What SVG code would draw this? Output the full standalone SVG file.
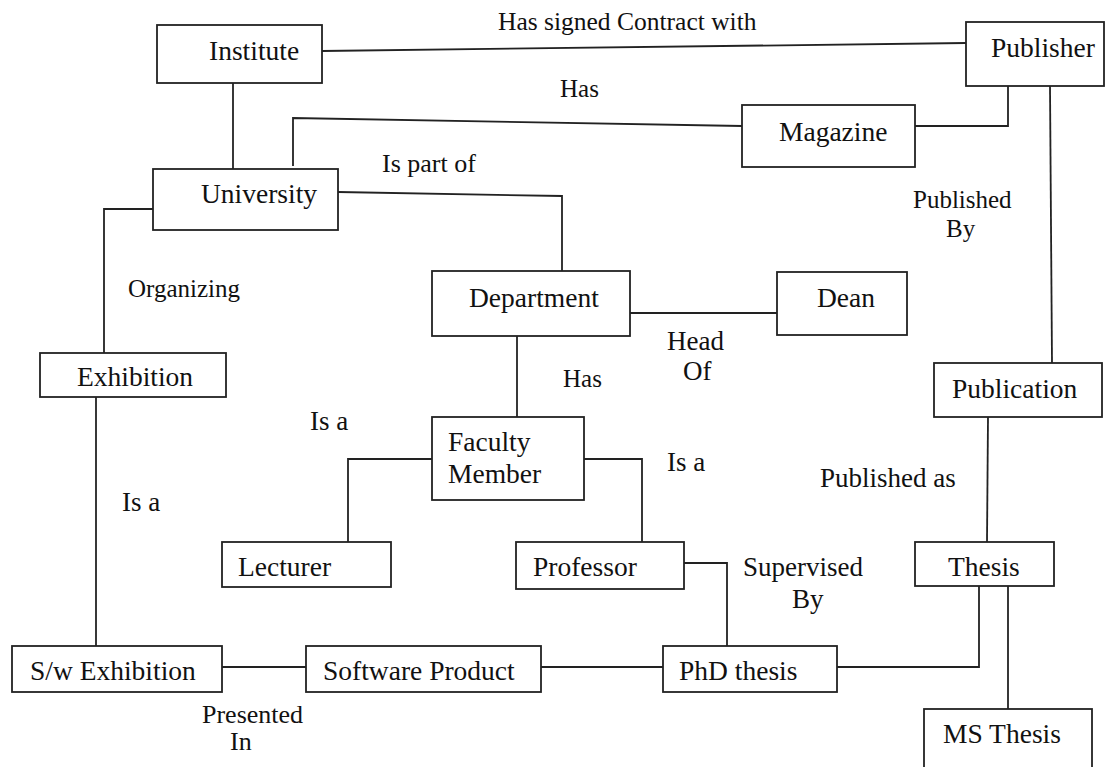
<svg xmlns="http://www.w3.org/2000/svg" width="1108" height="767" viewBox="0 0 1108 767">
<style>
.box{fill:#fff;stroke:#222;stroke-width:1.8}
.t{font-family:"Liberation Serif","Times New Roman",serif;font-size:27.5px;fill:#111}
.l{font-family:"Liberation Serif","Times New Roman",serif;font-size:27px;fill:#111}
.s{font-size:25px}
.m{font-size:26px}
.c{fill:none;stroke:#222;stroke-width:1.8}
</style>
<rect width="1108" height="767" fill="#fff"/>
<g id="connectors">
<polyline class="c" points="322,51 966,43"/>
<polyline class="c" points="233,83 233,169"/>
<polyline class="c" points="293,166 293,118 742,126"/>
<polyline class="c" points="915,126 1008,126 1008,86"/>
<polyline class="c" points="1050,86 1052,363"/>
<polyline class="c" points="338,192 562,196 562,271"/>
<polyline class="c" points="153,209 104,209 104,353"/>
<polyline class="c" points="630,313 777,313"/>
<polyline class="c" points="517,336 517,417"/>
<polyline class="c" points="432,459 348,459 348,542"/>
<polyline class="c" points="579,459 642,459 642,542"/>
<polyline class="c" points="96,397 96,646"/>
<polyline class="c" points="222,667 306,667"/>
<polyline class="c" points="538,667 663,667"/>
<polyline class="c" points="684,563 727,563 727,646"/>
<polyline class="c" points="832,667 979,667 979,586"/>
<polyline class="c" points="988,417 987,542"/>
<polyline class="c" points="1008,586 1008,709"/>
</g>
<g id="labels">
<text class="l" x="498" y="30" style="font-size:25.5px">Has signed Contract with</text>
<text class="l s" x="560" y="97">Has</text>
<text class="l m" x="382" y="172">Is part of</text>
<text class="l s" x="913" y="208">Published</text>
<text class="l s" x="946" y="237">By</text>
<text class="l s" x="128" y="297">Organizing</text>
<text class="l" x="667" y="350">Head</text>
<text class="l" x="683" y="380">Of</text>
<text class="l s" x="563" y="387">Has</text>
<text class="l" x="310" y="430">Is a</text>
<text class="l" x="667" y="471">Is a</text>
<text class="l" x="820" y="487">Published as</text>
<text class="l" x="122" y="511">Is a</text>
<text class="l" x="743" y="576">Supervised</text>
<text class="l" x="792" y="608">By</text>
<text class="l m" x="202" y="723">Presented</text>
<text class="l m" x="230" y="750">In</text>
</g>
<g id="institute"><rect class="box" x="157" y="25" width="165" height="58"/><text class="t" x="209" y="60">Institute</text></g>
<g id="publisher"><rect class="box" x="966" y="22" width="138" height="64"/><text class="t" x="991" y="57">Publisher</text></g>
<g id="magazine"><rect class="box" x="742" y="105" width="173" height="62"/><text class="t" x="779" y="141">Magazine</text></g>
<g id="university"><rect class="box" x="153" y="169" width="185" height="61"/><text class="t" x="201" y="203">University</text></g>
<g id="department"><rect class="box" x="432" y="271" width="198" height="65"/><text class="t" x="469" y="307">Department</text></g>
<g id="dean"><rect class="box" x="777" y="272" width="130" height="63"/><text class="t" x="817" y="307">Dean</text></g>
<g id="exhibition"><rect class="box" x="40" y="353" width="186" height="44"/><text class="t" x="77" y="386">Exhibition</text></g>
<g id="publication"><rect class="box" x="934" y="363" width="168" height="54"/><text class="t" x="952" y="398">Publication</text></g>
<g id="faculty-member"><rect class="box" x="432" y="417" width="152" height="83"/><text class="t" x="448" y="451">Faculty</text><text class="t" x="448" y="483">Member</text></g>
<g id="lecturer"><rect class="box" x="222" y="542" width="169" height="45"/><text class="t" x="238" y="576">Lecturer</text></g>
<g id="professor"><rect class="box" x="516" y="542" width="168" height="47"/><text class="t" x="533" y="576">Professor</text></g>
<g id="thesis"><rect class="box" x="915" y="542" width="139" height="44"/><text class="t" x="948" y="576">Thesis</text></g>
<g id="sw-exhibition"><rect class="box" x="12" y="646" width="210" height="46"/><text class="t" x="30" y="680">S/w Exhibition</text></g>
<g id="software-product"><rect class="box" x="306" y="646" width="235" height="46"/><text class="t" x="323" y="680">Software Product</text></g>
<g id="phd-thesis"><rect class="box" x="663" y="646" width="174" height="46"/><text class="t" x="679" y="680">PhD thesis</text></g>
<g id="ms-thesis"><rect class="box" x="924" y="709" width="168" height="70"/><text class="t" x="943" y="743">MS Thesis</text></g>
</svg>
